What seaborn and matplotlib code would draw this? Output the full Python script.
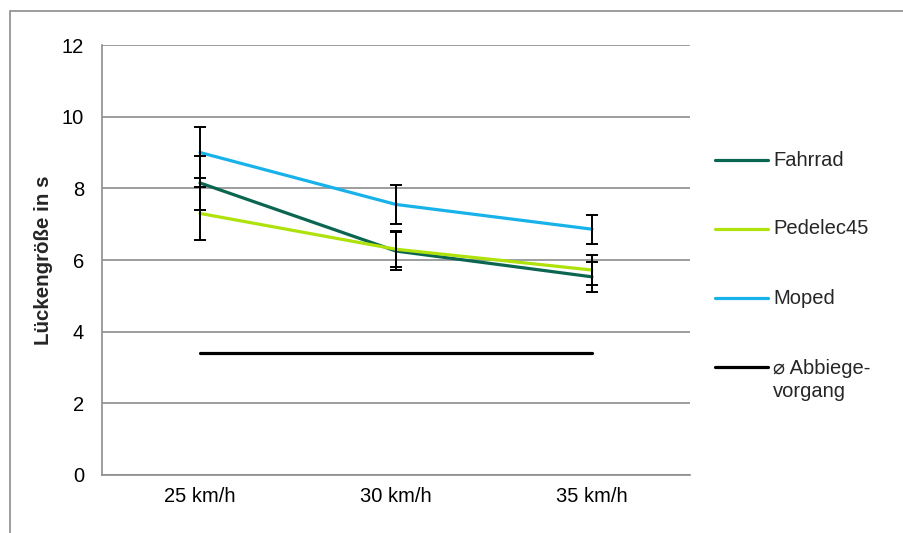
"""Lückengröße je Fahrzeugtyp und Geschwindigkeit, mit Fehlerbalken."""

import matplotlib
matplotlib.use("Agg")

import numpy as np
import pandas as pd
import matplotlib.pyplot as plt
from matplotlib.lines import Line2D
from matplotlib.patches import Rectangle
import seaborn as sns


# Categories and values.
SPEEDS = ["25 km/h", "30 km/h", "35 km/h"]
SERIES = ["Fahrrad", "Pedelec45", "Moped"]

FAHRRAD = [8.15, 6.25, 5.53]
FAHRRAD_ERR = [0.75, 0.53, 0.42]
PEDELEC = [7.30, 6.30, 5.72]
PEDELEC_ERR = [0.74, 0.50, 0.43]
MOPED = [9.00, 7.55, 6.86]
MOPED_ERR = [0.70, 0.55, 0.40]
ABBIEGE = [3.40, 3.40, 3.40]

Y_TICKS = [0, 2, 4, 6, 8, 10, 12]

COLORS = {
    "Fahrrad": "#0A6650",
    "Pedelec45": "#AEE20A",
    "Moped": "#18B2EA",
    "⌀ Abbiege-\nvorgang": "#000000",
}

GRID = "#8C8C8C"
FS = 14.5

sns.set_style("white")
plt.rcParams["font.family"] = ["Liberation Sans", "DejaVu Sans"]

# long table for seaborn
pos = np.arange(len(SPEEDS))
values = {"Fahrrad": FAHRRAD, "Pedelec45": PEDELEC, "Moped": MOPED}
errors = {"Fahrrad": FAHRRAD_ERR, "Pedelec45": PEDELEC_ERR, "Moped": MOPED_ERR}
rows = []
for name in SERIES:
    for p, v in zip(pos, values[name]):
        rows.append({"pos": p, "value": v, "serie": name})
df = pd.DataFrame(rows)
df_abb = pd.DataFrame({"pos": pos, "value": ABBIEGE})

W, H = 904, 533
fig = plt.figure(figsize=(W / 100, H / 100), dpi=100)
ax = fig.add_axes([102 / W, 1 - 475 / H, (690 - 102) / W, (475 - 45) / H])

sns.lineplot(data=df, x="pos", y="value", hue="serie", hue_order=SERIES,
             palette=COLORS, linewidth=2.3, legend=False, ax=ax, zorder=3)
sns.lineplot(data=df_abb, x="pos", y="value", color="black",
             linewidth=2.3, legend=False, ax=ax, zorder=3)

for name in SERIES:
    ax.errorbar(pos, values[name], yerr=errors[name], fmt="none",
                ecolor="black", elinewidth=1.4, capsize=4.5, capthick=1.4,
                zorder=4)

ax.set_xlim(-0.5, len(SPEEDS) - 0.5)
ax.set_ylim(0, 12)
ax.set_xticks(pos)
ax.set_xticklabels(SPEEDS)
ax.set_yticks(Y_TICKS)
ax.tick_params(axis="both", length=0, labelsize=FS, colors="black")
ax.tick_params(axis="y", pad=13)
ax.tick_params(axis="x", pad=9)
ax.grid(axis="y", color=GRID, linewidth=1.2)
ax.set_axisbelow(True)
for side in ["top", "right"]:
    ax.spines[side].set_visible(False)
for side in ["left", "bottom"]:
    ax.spines[side].set_color(GRID)
    ax.spines[side].set_linewidth(1.2)

ax.set_xlabel("")
ax.set_ylabel("Lückengröße in s", fontsize=FS + 0.3, fontweight="bold")
ax.yaxis.set_label_coords(-0.083, 0.5)

# legend on the right, drawn by hand so the two-line label lines up like Excel
legend_rows = [("Fahrrad", 160), ("Pedelec45", 229), ("Moped", 298),
               ("⌀ Abbiege-\nvorgang", 367)]
for label, ypx in legend_rows:
    y = 1 - ypx / H
    fig.add_artist(Line2D([715 / W, 768 / W], [y, y], color=COLORS[label],
                          linewidth=2.3, transform=fig.transFigure))
    if "\n" in label:
        fig.text(773 / W, 1 - (ypx + 13) / H, label, fontsize=FS,
                 va="center", ha="left", linespacing=1.25)
    else:
        fig.text(773 / W, y, label, fontsize=FS, va="center", ha="left")

# grey chart-area frame (cut at right/bottom like the screenshot)
fig.add_artist(Rectangle((10 / W, -0.2), 1.2, (H - 11) / H + 0.2,
                         fill=False, edgecolor=GRID, linewidth=1.2,
                         transform=fig.transFigure, clip_on=False))

fig.savefig("out.png", dpi=100)
